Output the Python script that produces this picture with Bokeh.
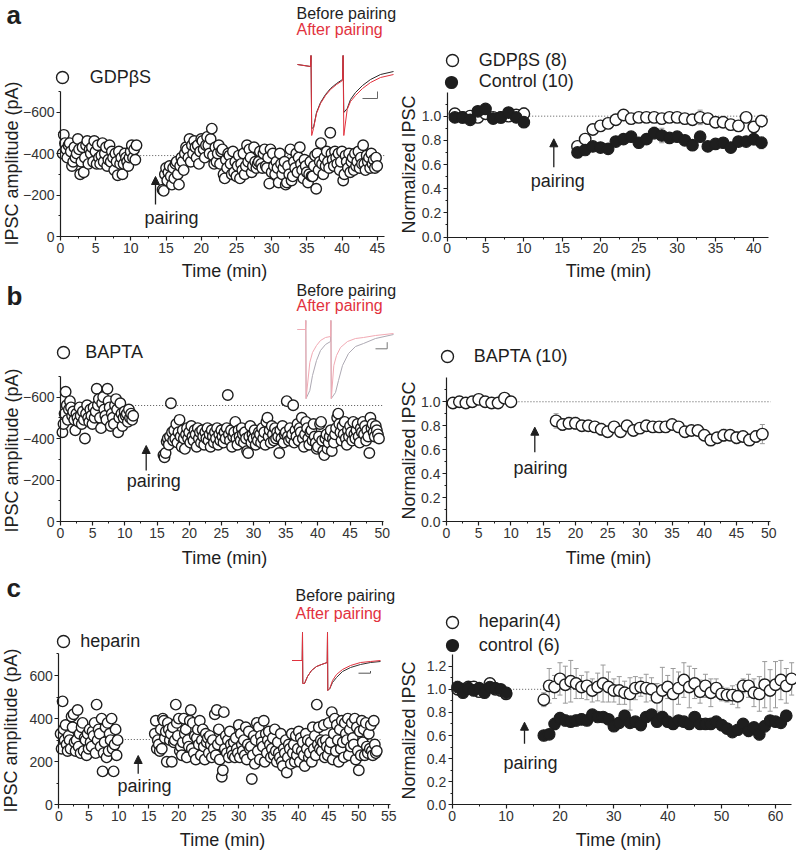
import math
from bokeh.plotting import figure
from bokeh.models import (Range1d, SingleIntervalTicker, PrintfTickFormatter, Label, Arrow, NormalHead,
                          Legend, LegendItem, Whisker, ColumnDataSource, TeeHead)
from bokeh.layouts import column, row
from bokeh.embed import file_html
from bokeh.resources import INLINE

FONT = "Liberation Sans"
INK = "#1e1e1e"
RED = "#e2323e"
GREY = "#9a9a9a"
SWEEP = 1 / 6  # one sweep every 10 s

# ---------------- panel a: GDPbS ----------------
a_pre_start = 0.3
a_pre = [-400, -490, -450, -420, -380, -440, -450, -410, -340, -360,
         -430, -380, -400, -470, -420, -300, -360, -430, -310, -380,
         -440, -460, -350, -420, -400, -430, -360, -460, -410, -350,
         -440, -380, -350, -390, -450, -360, -400, -430, -340, -370,
         -440, -360, -410, -380, -320, -400, -360, -295, -410, -350,
         -380, -300, -350, -400, -380, -360, -340, -380, -410, -440,
         -380, -420, -370, -440]
a_post_start = 14.5
a_post = [-225, -220, -300,
          -330, -270, -310, -340, -290, -250,
          -330, -280, -350, -360, -300, -250,
          -340, -380, -360, -320, -400, -430,
          -420, -380, -470, -360, -440, -400,
          -460, -430, -380, -440, -350, -410,
          -470, -460, -420, -380, -440, -480,
          -440, -400, -470, -520, -390, -350,
          -430, -360, -400, -440, -350, -410,
          -420, -300, -280, -370, -330, -400,
          -390, -350, -300, -410, -310, -360,
          -290, -340, -390, -280, -350, -320,
          -400, -300, -340, -440, -360, -420,
          -380, -310, -340, -430, -360, -330,
          -350, -360, -410, -350, -330, -400,
          -420, -340, -330, -380, -255, -420,
          -310, -400, -340, -300, -360, -330,
          -260, -400, -350, -300, -330, -360,
          -250, -260, -340, -300, -420, -270,
          -290, -360, -330, -400, -310, -380,
          -430, -350, -320, -280, -370, -340,
          -310, -260, -300, -360, -290, -290,
          -340, -390, -230, -400, -320, -360,
          -450, -350, -300, -380, -340, -410,
          -360, -330, -500, -400, -370, -340,
          -410, -380, -350, -400, -320, -360,
          -410, -270, -300, -390, -360, -330,
          -400, -310, -360, -380, -320, -400,
          -340, -360, -410, -330, -380, -350,
          -440, -350, -320, -390, -360, -380,
          -330, -400, -350, -370, -330, -380,
          -340]
a_baseline = -390

a_norm_t_pre = list(range(1, 11))
a_norm_t_post = list(range(17, 42))
gdp_pre = [1.02, 0.99, 1.00, 0.99, 1.02, 0.99, 0.99, 1.00, 1.01, 1.02]
gdp_pre_err = [0.03, 0.02, 0.02, 0.02, 0.03, 0.02, 0.02, 0.02, 0.02, 0.05]
gdp_post = [0.75, 0.81, 0.89, 0.92, 0.94, 0.97, 1.01, 0.98, 0.99, 0.99, 0.99, 0.98, 0.99,
            0.99, 0.98, 0.97, 0.99, 0.98, 0.95, 0.95, 0.93, 0.92, 0.99, 0.91, 0.96]
gdp_post_err = [0.04, 0.03, 0.03, 0.03, 0.03, 0.03, 0.04, 0.03, 0.03, 0.03, 0.03, 0.03, 0.04,
                0.03, 0.04, 0.04, 0.06, 0.04, 0.04, 0.04, 0.04, 0.04, 0.04, 0.04, 0.03]
ctl_pre = [0.99, 0.99, 0.97, 1.04, 1.06, 0.98, 0.99, 1.03, 0.99, 0.95]
ctl_pre_err = [0.02, 0.02, 0.02, 0.03, 0.03, 0.02, 0.02, 0.03, 0.03, 0.03]
ctl_post = [0.70, 0.72, 0.75, 0.74, 0.73, 0.79, 0.81, 0.83, 0.78, 0.81, 0.86, 0.84, 0.82,
            0.83, 0.80, 0.76, 0.83, 0.75, 0.77, 0.78, 0.74, 0.79, 0.79, 0.81, 0.78]
ctl_post_err = [0.04, 0.03, 0.03, 0.04, 0.03, 0.04, 0.04, 0.04, 0.04, 0.04, 0.05, 0.06, 0.04,
                0.04, 0.04, 0.04, 0.04, 0.04, 0.03, 0.04, 0.03, 0.04, 0.03, 0.05, 0.05]

# sample traces (ms, pA) for panel a inset
a_trace_t = [0, 13, 13.5, 14.2, 16, 19, 23, 28, 33, 39, 45, 45.6, 46.3, 49.7, 53, 58, 65, 73, 83, 96]
a_before_i = [0, -20, 90, -640, -630, -480, -380, -300, -240, -190, -150, 90, -480, -440, -350,
              -280, -210, -150, -100, -70]
a_after_i = [0, -20, 90, -710, -640, -490, -390, -310, -250, -200, -160, 90, -710, -450, -370,
             -310, -240, -180, -130, -100]
a_bar_t = [65, 80, 80]
a_bar_i = [-340, -340, -270]

# ---------------- panel b: BAPTA ----------------
b_pre_start = 0.3
b_pre = [-430, -470, -520, -625, -560, -490, -540, -580, -550, -510,
         -530, -490, -440, -520, -500, -480, -550, -510, -470, -530,
         -490, -400, -520, -560, -500, -480, -540, -510, -470, -550,
         -500, -530, -640, -560, -590, -500, -450, -570, -600, -540,
         -510, -490, -640, -580, -550, -460, -520, -500, -470, -560,
         -590, -540, -430, -500, -570, -520, -460, -500, -530, -510,
         -520, -480, -540, -500, -520, -490, -510]
b_post_start = 16.0
b_post = [-320, -310, -330, -385, -400, -370,
          -410, -570, -430, -390, -440, -400,
          -470, -380, -430, -490, -410, -360,
          -440, -400, -350, -420, -450, -400,
          -430, -380, -460, -410, -390, -440,
          -420, -360, -450, -400, -430, -380,
          -440, -410, -370, -430, -400, -450,
          -390, -420, -360, -440, -410, -380,
          -430, -400, -450, -370, -420, -390,
          -440, -410, -380, -430, -400, -450,
          -610, -420, -390, -440, -360, -410,
          -430, -480, -400, -370, -440, -410,
          -390, -450, -420, -380, -430, -400,
          -340, -330, -410, -460, -380, -420,
          -400, -440, -370, -410, -390, -430,
          -420, -380, -450, -400, -430, -370,
          -480, -500, -410, -440, -380, -460,
          -420, -390, -450, -400, -430, -410,
          -330, -440, -400, -460, -380, -420,
          -430, -580, -410, -390, -450, -400,
          -420, -560, -380, -440, -410, -470,
          -390, -450, -430, -500, -400, -360,
          -420, -480, -450, -400, -370, -430,
          -440, -390, -470, -410, -380, -350,
          -360, -410, -470, -480, -390, -340,
          -320, -400, -420, -350, -380, -410,
          -440, -340, -400, -380, -420, -450,
          -500, -520, -470, -430, -390, -460,
          -420, -480, -400, -370, -440, -410,
          -460, -430, -390, -480, -420, -400,
          -440, -470, -410, -380, -450, -430,
          -480, -420, -460, -390, -440, -410,
          -330, -500, -450, -470, -430, -410,
          -460, -440, -420, -400]
b_baseline = -559

b_norm_t_pre = list(range(1, 11))
b_norm_t_post = list(range(17, 50))
bapta_pre = [0.99, 1.00, 0.99, 1.00, 1.02, 1.00, 0.99, 0.99, 1.03, 1.00]
bapta_pre_err = [0.02, 0.02, 0.02, 0.02, 0.02, 0.03, 0.02, 0.02, 0.02, 0.02]
bapta_post = [0.84, 0.81, 0.82, 0.82, 0.80, 0.80, 0.79, 0.77, 0.75, 0.79, 0.75, 0.80, 0.76,
              0.78, 0.80, 0.79, 0.79, 0.79, 0.81, 0.79, 0.75, 0.76, 0.76, 0.72, 0.68, 0.70,
              0.72, 0.72, 0.70, 0.71, 0.68, 0.71, 0.73]
bapta_post_err = [0.06, 0.05, 0.05, 0.05, 0.04, 0.04, 0.04, 0.05, 0.04, 0.04, 0.04, 0.04, 0.04,
                  0.04, 0.04, 0.04, 0.04, 0.04, 0.03, 0.04, 0.04, 0.04, 0.04, 0.04, 0.04, 0.04,
                  0.05, 0.04, 0.05, 0.04, 0.04, 0.05, 0.08]

b_trace_t_before = [0, 8, 8.3, 8.6, 12.3, 15, 19, 23, 28, 33, 33.4, 33.8, 38, 41, 45, 51, 58, 66, 78, 96]
b_before_i = [0, 0, 90, -690, -610, -460, -310, -210, -150, -120, 90, -690, -630, -510, -360,
              -240, -170, -140, -90, -50]
b_trace_t_after = [0, 8, 8.3, 8.6, 12.3, 15, 19, 23, 28, 33, 33.4, 33.8, 36.3, 39, 43, 50, 58, 66, 78, 96]
b_after_i = [0, 0, 90, -690, -330, -230, -160, -110, -80, -70, 90, -690, -360, -260, -180,
             -120, -90, -80, -60, -40]
b_bar_t = [78, 89.7, 89.7]
b_bar_i = [-193, -193, -127]

# ---------------- panel c: heparin ----------------
c_pre_start = 0.3
c_pre = [330, 260, 480, 350, 300, 370, 280, 250, 320, 300,
         260, 410, 360, 420, 290, 250, 300, 440, 270, 330,
         240, 360, 380, 250, 310, 300, 230, 330, 260, 350,
         290, 270, 340, 320, 380, 240, 465, 300, 350, 330,
         270, 400, 155, 240, 290, 360, 220, 380, 250, 330,
         300, 400, 260, 155, 280, 350, 230, 300]
c_post_start = 16.0
c_post = [330, 390, 260, 300, 280, 250,
          350, 260, 400, 390, 310, 340,
          200, 380, 350, 300, 330, 200,
          360, 290, 300, 465, 380, 320,
          400, 250, 270, 230, 290, 400,
          330, 350, 220, 300, 270, 390,
          440, 260, 380, 240, 320, 210,
          310, 350, 280, 390, 230, 300,
          350, 270, 210, 330, 290, 310,
          240, 320, 280, 220, 300, 260,
          420, 230, 440, 280, 350, 210,
          300, 130, 160, 430, 260, 320,
          240, 300, 220, 340, 280, 250,
          230, 290, 220, 310, 260, 240,
          370, 220, 330, 280, 250, 300,
          230, 360, 210, 280, 340, 260,
          270, 120, 230, 320, 190, 300,
          380, 250, 360, 210, 320, 290,
          270, 390, 200, 330, 240, 300,
          340, 280, 220, 260, 310, 230,
          350, 250, 200, 290, 240, 220,
          330, 200, 180, 260, 240, 300,
          150, 220, 280, 260, 190, 330,
          240, 280, 200, 320, 230, 260,
          340, 200, 310, 250, 290, 230,
          180, 330, 260, 300, 220, 240,
          290, 200, 360, 260, 320, 230,
          465, 280, 360, 260, 300, 250,
          290, 370, 220, 300, 270, 230,
          380, 260, 290, 430, 210, 330,
          400, 250, 370, 300, 200, 350,
          260, 390, 290, 220, 380, 330,
          300, 400, 230, 350, 270, 380,
          310, 280, 400, 210, 360, 250,
          160, 340, 230, 390, 290, 350,
          230, 380, 270, 240, 330, 260,
          370, 250, 230, 390, 280, 240,
          250]
c_baseline = 303

c_norm_t_pre = list(range(1, 11))
c_norm_t_hep = list(range(17, 64))
c_norm_t_ctl = list(range(17, 63))
hep_pre = [1.00, 1.00, 1.02, 1.02, 0.98, 0.99, 1.05, 1.00, 0.99, 0.96]
hep_pre_err = [0.04, 0.03, 0.04, 0.03, 0.04, 0.04, 0.03, 0.04, 0.03, 0.04]
ctl6_pre = [1.02, 0.97, 1.01, 0.99, 1.01, 0.97, 1.02, 1.01, 1.00, 0.97]
ctl6_pre_err = [0.05, 0.04, 0.04, 0.04, 0.03, 0.04, 0.04, 0.04, 0.03, 0.04]
hep_post = [0.91, 1.03, 1.02, 1.09, 1.04, 1.07, 1.05, 1.02, 1.03, 0.99,
            1.02, 1.05, 1.02, 0.99, 0.99, 0.97, 0.96, 1.01, 1.02, 1.01,
            1.00, 0.93, 0.99, 1.02, 0.96, 1.01, 1.08, 1.02, 1.05, 0.98,
            1.03, 0.97, 1.01, 0.96, 0.95, 0.95, 0.94, 1.03, 1.03, 0.97,
            0.96, 1.04, 0.99, 1.04, 1.08, 1.03, 1.09]
hep_post_err = [0.06, 0.15, 0.10, 0.14, 0.16, 0.18, 0.13, 0.10, 0.12, 0.10,
                0.12, 0.16, 0.13, 0.10, 0.12, 0.10, 0.14, 0.10, 0.08, 0.12,
                0.10, 0.12, 0.20, 0.10, 0.22, 0.14, 0.15, 0.18, 0.13, 0.10,
                0.10, 0.12, 0.08, 0.06, 0.06, 0.08, 0.10, 0.06, 0.10, 0.12,
                0.15, 0.20, 0.18, 0.20, 0.17, 0.15, 0.14]
ctl6_post = [0.60, 0.61, 0.70, 0.75, 0.73, 0.72, 0.73, 0.74, 0.73, 0.78,
             0.76, 0.76, 0.74, 0.68, 0.71, 0.77, 0.71, 0.72, 0.69, 0.76,
             0.78, 0.72, 0.76, 0.72, 0.70, 0.73, 0.72, 0.70, 0.76, 0.70,
             0.70, 0.70, 0.72, 0.69, 0.66, 0.63, 0.65, 0.70, 0.64, 0.67,
             0.61, 0.68, 0.73, 0.72, 0.71, 0.77]
ctl6_post_err = [0.03, 0.03, 0.05, 0.05, 0.05, 0.04, 0.05, 0.05, 0.04, 0.04,
                 0.04, 0.04, 0.04, 0.04, 0.04, 0.05, 0.04, 0.04, 0.04, 0.04,
                 0.04, 0.04, 0.05, 0.04, 0.04, 0.04, 0.04, 0.04, 0.04, 0.04,
                 0.04, 0.04, 0.04, 0.05, 0.04, 0.04, 0.04, 0.04, 0.05, 0.04,
                 0.05, 0.05, 0.04, 0.04, 0.04, 0.05]

c_trace_t = [0, 10, 10.3, 10.6, 12.3, 15.3, 19.3, 24.3, 29.3, 35, 35.3, 35.6, 37.6, 40.3, 44.3,
             50.3, 58.3, 68.3, 78.3, 88.3]
c_after_i = [0, 0, 280, -230, -230, -160, -100, -60, -40, -20, 280, -300, -280, -200, -140,
             -90, -50, -20, -10, 0]
c_before_i = [0, 0, 280, -230, -230, -160, -100, -60, -40, -20, 280, -300, -280, -220, -170,
              -110, -70, -40, -20, -10]
c_bar_t = [66.3, 78.3, 78.3]
c_bar_i = [-127, -127, -105]


def sweeps(start, vals):
    return [start + k * SWEEP for k in range(len(vals))]


# ---------------- helpers ----------------
def build(box, xcal, ycal, xbounds, ybounds, xstep, ystep, yfmt=None):
    """Whole canvas is the plot frame; axes sit at x=0 / y=0 inside it."""
    L, T, W, H = box

    def X(px):
        return xcal[0] + (px - xcal[1]) * (xcal[2] - xcal[0]) / (xcal[3] - xcal[1])

    def Y(py):
        return ycal[0] + (py - ycal[1]) * (ycal[2] - ycal[0]) / (ycal[3] - ycal[1])

    p = figure(width=W, height=H, x_range=Range1d(X(L), X(L + W)), y_range=Range1d(Y(T + H), Y(T)),
               output_backend="svg", toolbar_location=None, title=None, min_border=0)
    p.outline_line_color = None
    p.xgrid.visible = False
    p.ygrid.visible = False
    for ax in (p.xaxis[0], p.yaxis[0]):
        ax.fixed_location = 0
        ax.axis_line_color = INK
        ax.axis_line_width = 1.2
        ax.major_tick_line_color = INK
        ax.major_tick_line_width = 1.2
        ax.major_tick_out = 4
        ax.major_tick_in = 0
        ax.minor_tick_line_color = INK
        ax.minor_tick_line_width = 1
        ax.minor_tick_out = 2
        ax.minor_tick_in = 0
        ax.major_label_text_font = FONT
        ax.major_label_text_font_size = "14px"
        ax.major_label_text_color = "#333333"
        ax.major_label_standoff = 2
    p.xaxis.ticker = SingleIntervalTicker(interval=xstep, num_minor_ticks=2)
    p.yaxis.ticker = SingleIntervalTicker(interval=ystep, num_minor_ticks=2)
    p.xaxis.bounds = xbounds
    p.yaxis.bounds = ybounds
    if yfmt:
        p.yaxis.formatter = PrintfTickFormatter(format=yfmt)
    return p, X, Y


def text(p, X, Y, px, py, s, size=18, color=INK, align="left", angle=0, bold=False, middle=False):
    """py is the text baseline (page px) unless middle=True, then it is the centre."""
    yc = py if middle else py - 0.35 * size
    p.add_layout(Label(x=X(px), y=Y(yc), text=s, text_font=FONT, text_font_size=f"{size}px",
                       text_color=color, text_align=align, text_baseline="middle", angle=angle,
                       text_font_style="bold" if bold else "normal"))


def axis_titles(p, X, Y, xt, yt, ylab):
    text(p, X, Y, xt[0], xt[1], "Time (min)", align="center")
    text(p, X, Y, yt[0], yt[1], ylab, align="center", angle=math.pi / 2, middle=True)


def pairing(p, X, Y, ax, tail, head, tx, tb):
    p.add_layout(Arrow(end=NormalHead(size=8, fill_color=INK, line_color=INK, line_width=1),
                       x_start=X(ax), y_start=Y(tail), x_end=X(ax), y_end=Y(head),
                       line_color=INK, line_width=1.3))
    text(p, X, Y, tx, tb, "pairing", align="center")


def key(p, box, label, renderer, cx, cy, text_left):
    L, T, W, H = box
    g = 30
    p.add_layout(Legend(items=[LegendItem(label=label, renderers=[renderer])],
                        location=(cx - g / 2 - L, (T + H) - (cy + g / 2)),
                        glyph_width=g, glyph_height=g, padding=0, margin=0, spacing=0,
                        label_standoff=int(round(text_left - (cx + g / 2))), label_text_font=FONT,
                        label_text_font_size="18px", label_text_color=INK, border_line_color=None,
                        background_fill_alpha=0))


def traces(p, box, origin, lines, ms_px=1.0, pa_px=0.1):
    L, T, W, H = box
    ox, oy = origin
    p.extra_x_ranges = {"ins": Range1d((L - ox) / ms_px, (L + W - ox) / ms_px)}
    p.extra_y_ranges = {"ins": Range1d((oy - T - H) / pa_px, (oy - T) / pa_px)}
    for t, i, col in lines:
        p.line(t, i, x_range_name="ins", y_range_name="ins", line_color=col, line_width=1)


def errbars(p, t, m, e):
    src = ColumnDataSource(dict(x=t, upper=[a + b for a, b in zip(m, e)], lower=[a - b for a, b in zip(m, e)]))
    p.add_layout(Whisker(source=src, base="x", upper="upper", lower="lower", line_color=GREY, line_width=1,
                         upper_head=TeeHead(size=5, line_color=GREY, line_width=1),
                         lower_head=TeeHead(size=5, line_color=GREY, line_width=1)))


def dotted(p, x0, x1, y):
    p.line([x0, x1], [y, y], line_dash="1 2", line_color="#555555", line_width=1)


def open_pts(p, t, v, size=10.5):
    return p.scatter(t, v, marker="circle", size=size, line_color=INK, fill_color="white", line_width=1.4)


def filled_pts(p, t, v, size=11.5):
    return p.scatter(t, v, marker="circle", size=size, line_color=INK, fill_color=INK, line_width=1.2)


# ================= Row a =================
box = (0, 0, 398, 281)
al, X, Y = build(box, (0, 60, 45, 376.7), (0, 236, -600, 111.5), (0, 46), (-700, 0), 5, 200)
traces(al, box, (297, 64), [(a_trace_t, a_before_i, "#2a2a2a"), (a_trace_t, a_after_i, RED),
                            (a_bar_t, a_bar_i, "#666666")])
dotted(al, 10.9, 46, a_baseline)
r1 = open_pts(al, sweeps(a_pre_start, a_pre), a_pre)
open_pts(al, sweeps(a_post_start, a_post), a_post)
key(al, box, "GDPβS", r1, 61.7, 77.3, 90)
text(al, X, Y, 6, 24, "a", size=26, bold=True)
text(al, X, Y, 296, 19, "Before pairing", size=16)
text(al, X, Y, 296, 35, "After pairing", size=16, color=RED)
pairing(al, X, Y, 155, 204, 176, 171, 224)
axis_titles(al, X, Y, (224, 276.5), (11, 163), "IPSC amplitude (pA)")

box = (398, 0, 398, 281)
ar, X, Y = build(box, (0, 446.7, 40, 753.3), (0, 236.5, 1.2, 91.5), (0, 41.9), (0, 1.2), 5, 0.2, "%.1f")
dotted(ar, 10.7, 41.9, 1.0)
errbars(ar, a_norm_t_pre, gdp_pre, gdp_pre_err)
errbars(ar, a_norm_t_post, gdp_post, gdp_post_err)
errbars(ar, a_norm_t_pre, ctl_pre, ctl_pre_err)
errbars(ar, a_norm_t_post, ctl_post, ctl_post_err)
g1 = open_pts(ar, a_norm_t_pre, gdp_pre, 11.5)
open_pts(ar, a_norm_t_post, gdp_post, 11.5)
c1 = filled_pts(ar, a_norm_t_pre, ctl_pre)
filled_pts(ar, a_norm_t_post, ctl_post)
key(ar, box, "GDPβS (8)", g1, 451.7, 60, 478.3)
key(ar, box, "Control (10)", c1, 450.7, 81.7, 478.3)
pairing(ar, X, Y, 553.3, 166.7, 138.3, 557.3, 186.7)
axis_titles(ar, X, Y, (608, 276.5), (408, 164), "Normalized IPSC")

# ================= Row b =================
box = (0, 281, 398, 289)
bl, X, Y = build(box, (0, 60, 50, 381.7), (0, 521, -600, 396.5), (0, 50.2), (-700, 0), 5, 200)
traces(bl, box, (297, 329), [(b_trace_t_before, b_before_i, "#aeaab4"),
                             (b_trace_t_after, b_after_i, "#f2aab4"),
                             (b_bar_t, b_bar_i, "#777777")])
dotted(bl, 11.6, 50.2, b_baseline)
r2 = open_pts(bl, sweeps(b_pre_start, b_pre), b_pre)
open_pts(bl, sweeps(b_post_start, b_post), b_post)
key(bl, box, "BAPTA", r2, 63.3, 352.3, 85)
text(bl, X, Y, 6, 305, "b", size=26, bold=True)
text(bl, X, Y, 296, 296, "Before pairing", size=16)
text(bl, X, Y, 296, 311, "After pairing", size=16, color=RED)
pairing(bl, X, Y, 145.7, 470, 445, 153.3, 486.7)
axis_titles(bl, X, Y, (224, 564), (11, 450), "IPSC amplitude (pA)")

box = (398, 281, 398, 289)
br, X, Y = build(box, (0, 446, 50, 768.3), (0, 521, 1.2, 377.3), (0, 50.3), (0, 1.2), 5, 0.2, "%.1f")
dotted(br, 10.7, 50.3, 1.0)
errbars(br, b_norm_t_pre, bapta_pre, bapta_pre_err)
errbars(br, b_norm_t_post, bapta_post, bapta_post_err)
b1 = open_pts(br, b_norm_t_pre, bapta_pre, 11.5)
open_pts(br, b_norm_t_post, bapta_post, 11.5)
key(br, box, "BAPTA (10)", b1, 446.7, 356, 473.3)
pairing(br, X, Y, 534.3, 451.7, 426.7, 540, 474)
axis_titles(br, X, Y, (608, 564), (408, 450), "Normalized IPSC")

# ================= Row c =================
box = (0, 570, 398, 283)
cl, X, Y = build(box, (0, 58.3, 55, 388.3), (0, 804.3, 600, 675), (0, 55.2), (0, 700), 5, 200)
traces(cl, box, (291.7, 660), [(c_trace_t, c_before_i, "#333333"), (c_trace_t, c_after_i, RED),
                               (c_bar_t, c_bar_i, "#555555")])
dotted(cl, 0, 53.6, c_baseline)
r3 = open_pts(cl, sweeps(c_pre_start, c_pre), c_pre)
open_pts(cl, sweeps(c_post_start, c_post), c_post)
key(cl, box, "heparin", r3, 63.3, 641, 80)
text(cl, X, Y, 6, 597, "c", size=26, bold=True)
text(cl, X, Y, 295, 600.5, "Before pairing", size=16)
text(cl, X, Y, 295, 619, "After pairing", size=16, color=RED)
pairing(cl, X, Y, 137.7, 773.3, 755, 144, 791.7)
axis_titles(cl, X, Y, (222, 846), (10, 730), "IPSC amplitude (pA)")

box = (398, 570, 398, 283)
cr, X, Y = build(box, (0, 451.7, 60, 775), (0, 804.3, 1.2, 665.7), (0, 63), (0, 1.3), 10, 0.2, "%.1f")
dotted(cr, 10.2, 63, 1.0)
errbars(cr, c_norm_t_pre, hep_pre, hep_pre_err)
errbars(cr, c_norm_t_hep, hep_post, hep_post_err)
errbars(cr, c_norm_t_pre, ctl6_pre, ctl6_pre_err)
errbars(cr, c_norm_t_ctl, ctl6_post, ctl6_post_err)
h1 = open_pts(cr, c_norm_t_pre, hep_pre, 11.5)
open_pts(cr, c_norm_t_hep, hep_post, 11.5)
k1 = filled_pts(cr, c_norm_t_pre, ctl6_pre)
filled_pts(cr, c_norm_t_ctl, ctl6_post)
key(cr, box, "heparin(4)", h1, 451.7, 621.7, 478.3)
key(cr, box, "control (6)", k1, 451.7, 645, 478.3)
pairing(cr, X, Y, 524, 743.3, 721.7, 530, 768.3)
axis_titles(cr, X, Y, (618, 846), (408, 730), "Normalized IPSC")

layout = column(row(al, ar), row(bl, br), row(cl, cr))
open("out.html", "w").write(file_html(layout, INLINE, title="IPSC pairing"))
